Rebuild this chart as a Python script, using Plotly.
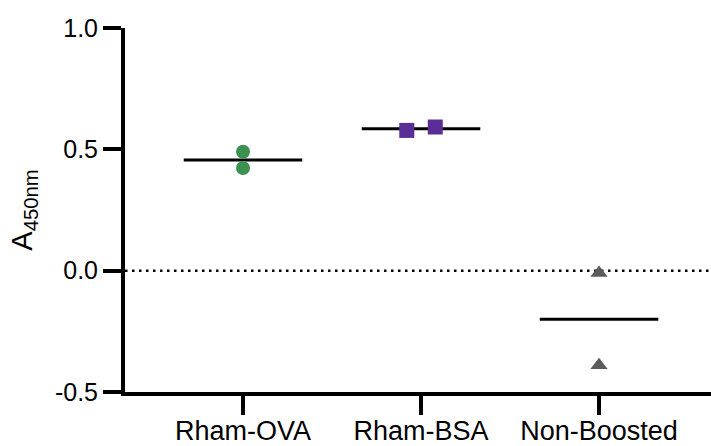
import plotly.graph_objects as go

# Groups and replicate absorbance readings (A450nm)
groups = ["Rham-OVA", "Rham-BSA", "Non-Boosted"]
rham_ova = [0.49, 0.423]
rham_bsa = [0.578, 0.592]
non_boosted = [-0.01, -0.39]

y_ticks = [-0.5, 0.0, 0.5, 1.0]
y_tick_labels = ["-0.5", "0.0", "0.5", "1.0"]

series = [rham_ova, rham_bsa, non_boosted]
colors = ["#3c9150", "#5a2d96", "#5c5c5c"]
symbols = ["circle", "square", "triangle-up"]
sizes = [14, 15, 15]
# horizontal spread of replicate points within each group (category units)
spread = [[0.0, 0.0], [-0.08, 0.08], [0.0, 0.0]]
half_width = 0.333  # half length of the mean bar

FONT = "Liberation Sans, Arial, Helvetica, sans-serif"

fig = go.Figure()

# mean bars
for i, vals in enumerate(series):
    m = sum(vals) / len(vals)
    fig.add_trace(go.Scatter(
        x=[i - half_width, i + half_width], y=[m, m], mode="lines",
        line=dict(color="black", width=3), showlegend=False, hoverinfo="skip"))

# individual points
for i, vals in enumerate(series):
    fig.add_trace(go.Scatter(
        x=[i + d for d in spread[i]], y=vals, mode="markers",
        marker=dict(symbol=symbols[i], size=sizes[i], color=colors[i],
                    line=dict(width=0)),
        name=groups[i], showlegend=False))

# dotted reference line at zero
fig.add_shape(type="line", xref="paper", x0=0, x1=1, yref="y", y0=0, y1=0,
              line=dict(color="black", width=2.5, dash="2.5px,4.5px"),
              layer="below")

fig.update_layout(
    width=711, height=446,
    margin=dict(l=125, r=0, t=28, b=54),
    paper_bgcolor="white", plot_bgcolor="white",
    font=dict(family=FONT, color="black"),
    xaxis=dict(
        range=[-0.663, 2.629],
        tickvals=list(range(len(groups))), ticktext=groups,
        showline=True, linewidth=4, linecolor="black",
        ticks="outside", ticklen=19, tickwidth=4, tickcolor="black",
        tickfont=dict(size=27, family=FONT), ticklabelstandoff=-7,
        showgrid=False, zeroline=False, automargin=False,
    ),
    yaxis=dict(
        range=[-0.5, 1.0],
        tickvals=y_ticks, ticktext=y_tick_labels,
        showline=True, linewidth=4, linecolor="black",
        ticks="outside", ticklen=18, tickwidth=4, tickcolor="black",
        tickfont=dict(size=25, family=FONT),
        showgrid=False, zeroline=False, automargin=False,
        title=dict(text="A<sub>450nm</sub>", font=dict(size=29, family=FONT)),
    ),
)

fig.write_html("out.html")
